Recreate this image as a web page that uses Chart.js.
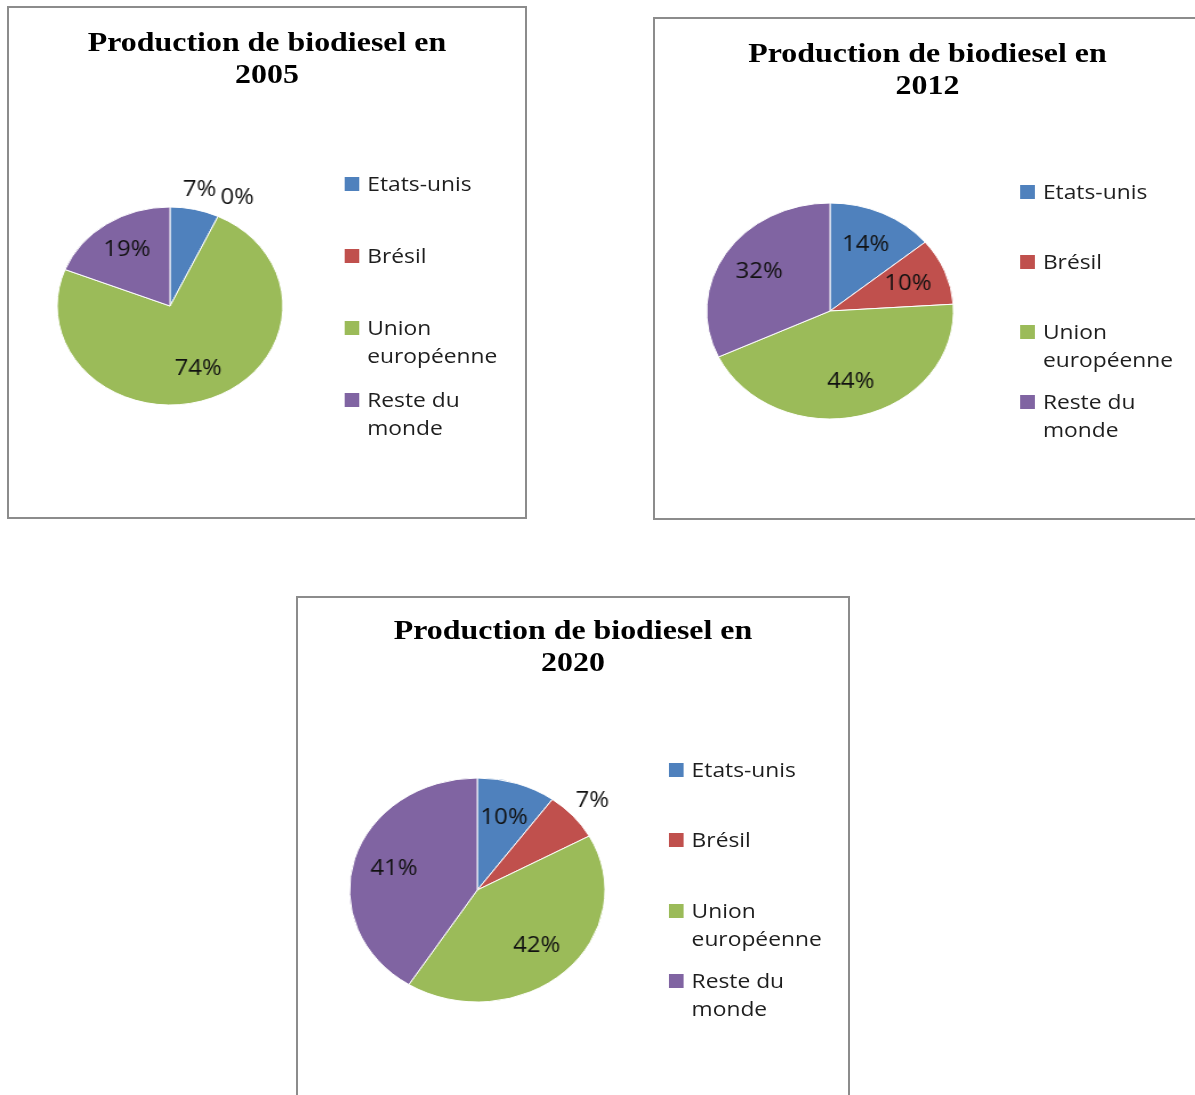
<!DOCTYPE html>
<html lang="fr">
<head>
<meta charset="utf-8">
<title>Production de biodiesel</title>
<script src="https://cdn.jsdelivr.net/npm/chart.js@4.4.1/dist/chart.umd.min.js"></script>
<style>
  body { margin:0; background:#fff; width:1195px; height:1095px; overflow:hidden; position:relative; }
  .box { position:absolute; border:2px solid #8c8c8c; box-sizing:border-box; background:#fff; overflow:hidden; }
  .stage { position:absolute; left:-2px; top:-2px; transform-origin:0 0; transform:scaleX(1.14); }
  .title { position:absolute; left:0; right:0; text-align:center; font:bold 28px "Liberation Serif", "Times New Roman", serif; line-height:32px; color:#000; }
  .canvas-wrap { position:absolute; left:0; top:0; }
  .legend-item { position:absolute; display:flex; align-items:flex-start; font:20px "Open Sans", sans-serif; line-height:28px; color:#1e1e1e; }
  .legend-item .sw { width:13px; height:14px; margin-top:7px; margin-right:7px; flex:none; }
  .legend-item .tx { width:125px; }
</style>
</head>
<body>
<script>
const categories = ['Etats-unis', 'Brésil', 'Union européenne', 'Reste du monde'];
const colors = ['#4F81BD', '#C0504D', '#9BBB59', '#8064A2'];
const years = ['2005', '2012', '2020'];
const values2005 = [7, 0, 74, 19];
const values2012 = [14, 10, 44, 32];
const values2020 = [10, 7, 42, 41];
const seriesByYear = [values2005, values2012, values2020];

const STRETCH = 1.14;

// box geometry on the page, then pie/legend positions in unstretched box coords
const layouts = [
  { left: 7,   top: 6,   width: 520, height: 513, cx: 143, cy: 300, r: 99,  titleTop: 20, legX: 296, legTop: 164, legStep: 72 },
  { left: 653, top: 17,  width: 549, height: 503, cx: 155, cy: 294, r: 108, titleTop: 20, legX: 322, legTop: 161, legStep: 70 },
  { left: 296, top: 596, width: 554, height: 520, cx: 159, cy: 294, r: 112, titleTop: 18, legX: 327, legTop: 160, legStep: 70.3 }
];

// percent labels: inside the slice, small slices outside like Excel
const pctLabels = {
  id: 'pctLabels',
  afterDatasetsDraw(chart) {
    const ctx = chart.ctx;
    const data = chart.data.datasets[0].data;
    ctx.save();
    ctx.font = '21px "Open Sans", sans-serif';
    ctx.fillStyle = '#111111';
    ctx.textAlign = 'center';
    ctx.textBaseline = 'middle';
    chart.getDatasetMeta(0).data.forEach((arc, i) => {
      const v = data[i];
      const p = arc.getProps(['x', 'y', 'startAngle', 'endAngle', 'outerRadius'], true);
      let a = (p.startAngle + p.endAngle) / 2;
      let k = 0.68;
      if (v < 10) {
        k = 1.2;
        if (v === 0) { a += 0.06; k = 1.24; }
      }
      ctx.fillText(`${v}%`, p.x + Math.cos(a) * p.outerRadius * k, p.y + Math.sin(a) * p.outerRadius * k);
    });
    ctx.restore();
  }
};

function buildBox(idx) {
  const L = layouts[idx];
  const W = L.width / STRETCH;
  const H = L.height;

  const box = document.createElement('div');
  box.className = 'box';
  box.style.cssText = `left:${L.left}px;top:${L.top}px;width:${L.width}px;height:${L.height}px;`;

  const stage = document.createElement('div');
  stage.className = 'stage';
  stage.style.width = W + 'px';
  stage.style.height = H + 'px';

  stage.innerHTML = `
    <div class="title" style="top:${L.titleTop}px">Production de biodiesel en<br>${years[idx]}</div>
    <div class="canvas-wrap" style="width:${W}px;height:${H}px"><canvas></canvas></div>
    ${categories.map((c, i) => `
      <div class="legend-item" style="left:${L.legX}px;top:${L.legTop + i * L.legStep}px">
        <div class="sw" style="background:${colors[i]}"></div>
        <div class="tx">${c}</div>
      </div>`).join('')}
  `;
  box.appendChild(stage);
  document.body.appendChild(box);

  const hw = Math.min(L.cx, W - L.cx);
  const hh = Math.min(L.cy, H - L.cy);

  new Chart(stage.querySelector('canvas').getContext('2d'), {
    type: 'pie',
    data: {
      labels: categories,
      datasets: [{
        data: seriesByYear[idx],
        backgroundColor: colors,
        borderColor: '#ffffff',
        borderWidth: 1
      }]
    },
    options: {
      responsive: true,
      maintainAspectRatio: false,
      animation: false,
      radius: L.r,
      layout: {
        padding: {
          left: L.cx - hw,
          right: W - L.cx - hw,
          top: L.cy - hh,
          bottom: H - L.cy - hh
        }
      },
      plugins: {
        legend: { display: false },
        tooltip: { enabled: false },
        title: { display: false }
      }
    },
    plugins: [pctLabels]
  });
}

years.forEach((y, i) => buildBox(i));
</script>
</body>
</html>
